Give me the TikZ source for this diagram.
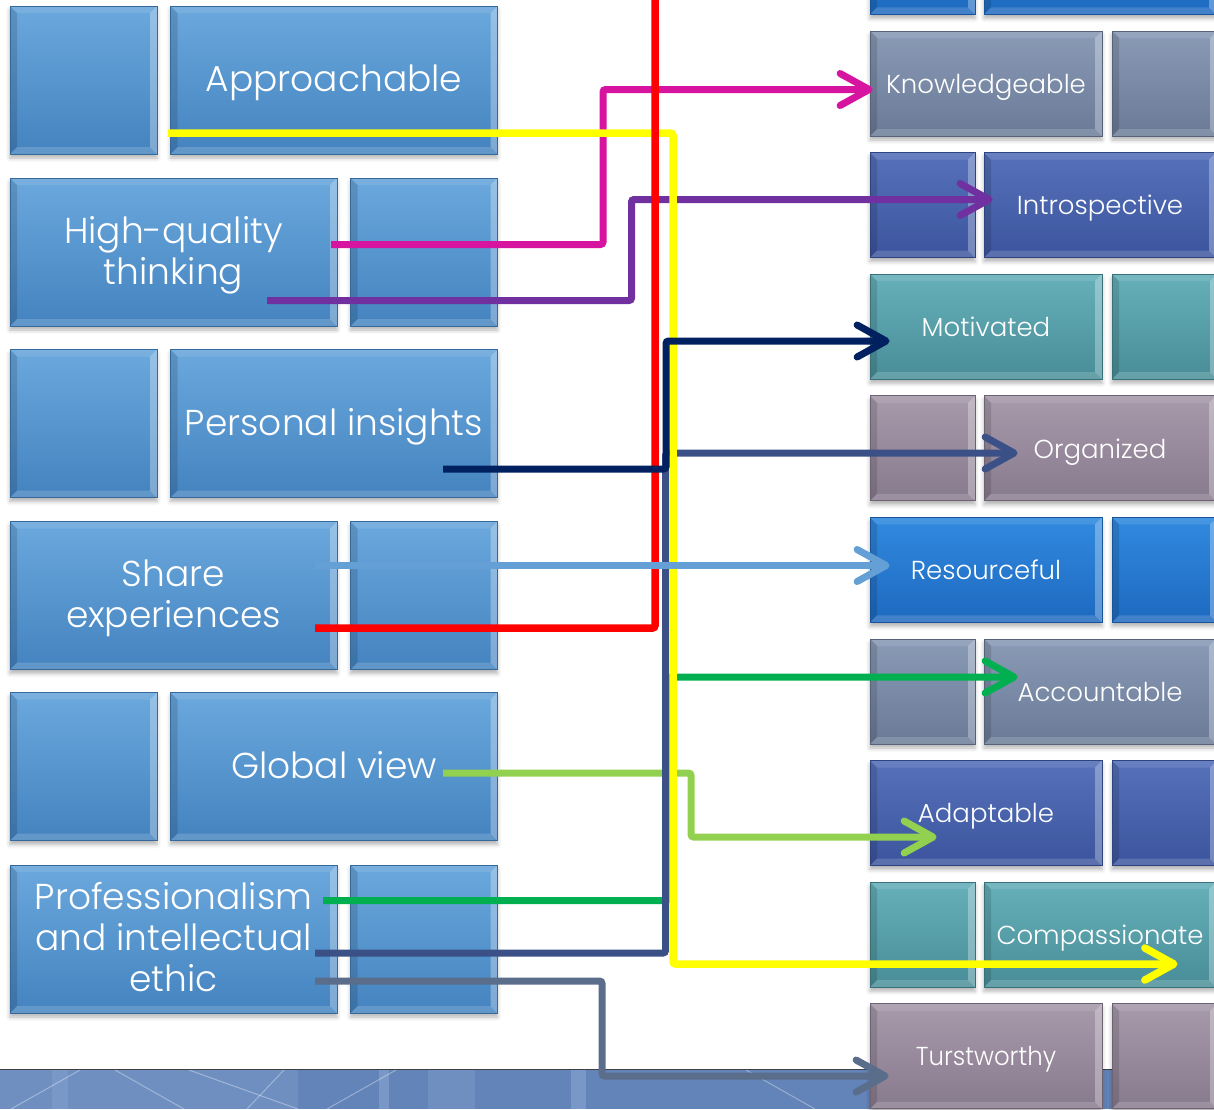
\documentclass[tikz,border=0pt]{standalone}
\usepackage{fontspec}
\setmainfont{Poppins}[UprightFont=* Light]
\usetikzlibrary{arrows.meta,shadows.blur,calc}

% tile colours (top / bottom of the vertical gradient)
\definecolor{skyT}{HTML}{6AA8DD}
\definecolor{skyB}{HTML}{4483BF}
\definecolor{azT}{HTML}{318ADF}
\definecolor{azB}{HTML}{1D69C0}
\definecolor{slT}{HTML}{8A9BB6}
\definecolor{slB}{HTML}{6A7A97}
\definecolor{roT}{HTML}{5672BA}
\definecolor{roB}{HTML}{3B549D}
\definecolor{teT}{HTML}{66B0BA}
\definecolor{teB}{HTML}{488D97}
\definecolor{mvT}{HTML}{A79AAB}
\definecolor{mvB}{HTML}{887A8D}
% connector colours
\definecolor{cMag}{HTML}{D6149F}
\definecolor{cPur}{HTML}{7030A0}
\definecolor{cNav}{HTML}{002060}
\definecolor{cSla}{HTML}{3A5086}
\definecolor{cGrn}{HTML}{00B050}
\definecolor{cLbl}{HTML}{64A0D6}
\definecolor{cLgr}{HTML}{92D050}
\definecolor{cGry}{HTML}{5A6D8A}
\definecolor{cYel}{HTML}{FFFF00}
\definecolor{cRed}{HTML}{FF0000}
% footer band
\definecolor{bandL}{HTML}{6F8FC1}
\definecolor{bandD}{HTML}{6384B9}
\definecolor{bandS}{HTML}{7A98C7}

\tikzset{
  bevel/.style={path picture={
    \fill[black,opacity=.13] (path picture bounding box.north west) -- (path picture bounding box.south west)
      -- ([shift={(7pt,7pt)}]path picture bounding box.south west) -- ([shift={(7pt,-7pt)}]path picture bounding box.north west) -- cycle;
    \fill[white,opacity=.30] (path picture bounding box.north east) -- (path picture bounding box.south east)
      -- ([shift={(-7pt,7pt)}]path picture bounding box.south east) -- ([shift={(-7pt,-7pt)}]path picture bounding box.north east) -- cycle;
    \fill[white,opacity=.16] (path picture bounding box.south west) -- (path picture bounding box.south east)
      -- ([shift={(-7pt,7pt)}]path picture bounding box.south east) -- ([shift={(7pt,7pt)}]path picture bounding box.south west) -- cycle;
    \fill[white,opacity=.10] (path picture bounding box.north west) -- (path picture bounding box.north east)
      -- ([shift={(-7pt,-7pt)}]path picture bounding box.north east) -- ([shift={(7pt,-7pt)}]path picture bounding box.north west) -- cycle;
  }},
  tile/.style 2 args={rectangle, inner sep=0pt, draw=#2!80!black, line width=.8pt,
    top color=#1, bottom color=#2, text=white, align=center, text depth=0pt, bevel,
    blur shadow={shadow xshift=0pt, shadow yshift=-4pt, shadow blur radius=4pt, shadow opacity=30}},
  bigL/.style={minimum width=327pt, minimum height=148pt, text depth=4pt, font=\fontsize{36}{41}\selectfont},
  smallL/.style={minimum width=147pt, minimum height=148pt},
  bigR/.style={minimum width=232pt, minimum height=105pt, font=\fontsize{26}{30}\selectfont},
  smallR/.style={minimum width=105pt, minimum height=105pt},
  conn/.style={line width=7pt, rounded corners=2.5pt},
  tip/.style={-{Straight Barb[length=29pt,width=32pt,round]}},
}

\begin{document}
\begin{tikzpicture}[x=1pt,y=-1pt]
\useasboundingbox (0,0) rectangle (1214,1109);

% footer band
\fill[bandD] (0,1070) rectangle (1214,1109);
\fill[bandL] (0,1070) rectangle (298,1109);
\fill[bandS] (52,1070) rectangle (68,1109);
\fill[bandS] (379,1070) rectangle (389,1109);
\fill[bandL] (428,1070) rectangle (475,1109);
\fill[bandS] (571,1070) rectangle (586,1109);
\begin{scope}[white,opacity=.35,line width=1pt]
  \draw (80,1070) -- (11,1109);
  \draw (115,1070) -- (184,1109);
  \draw (189,1070) -- (298,1109);
  \draw (284,1070) -- (247,1109);
  \draw (396,1070) -- (327,1109);
  \draw (746,1070) -- (815,1109);
\end{scope}
\draw[black!75,line width=1.5pt] (0,1069.5) -- (1214,1069.5);

% left column
\node[tile={skyT}{skyB},smallL] (a1s) at (83.5,80) {};
\node[tile={skyT}{skyB},bigL]   (ap)  at (334,80) {Approachable};
\node[tile={skyT}{skyB},bigL]   (hq)  at (173.5,252) {High-quality\\thinking};
\node[tile={skyT}{skyB},smallL] (hqs) at (424,252) {};
\node[tile={skyT}{skyB},smallL] (pis) at (83.5,423.5) {};
\node[tile={skyT}{skyB},bigL]   (pi)  at (334,423.5) {Personal insights};
\node[tile={skyT}{skyB},bigL]   (se)  at (173.5,595.5) {Share\\experiences};
\node[tile={skyT}{skyB},smallL] (ses) at (424,595.5) {};
\node[tile={skyT}{skyB},smallL] (gvs) at (83.5,766.5) {};
\node[tile={skyT}{skyB},bigL]   (gv)  at (334,766.5) {Global view};
\node[tile={skyT}{skyB},bigL]   (pe)  at (173.5,939) {Professionalism\\and intellectual\\ethic};
\node[tile={skyT}{skyB},smallL] (pes) at (424,939) {};

% right column
\node[tile={azT}{azB},smallR] (r0s) at (922.5,-38.1) {};
\node[tile={azT}{azB},bigR]   (r0b) at (1100,-38.1) {};
\node[tile={slT}{slB},bigR]   (kn)  at (986,83.5) {Knowledgeable};
\node[tile={slT}{slB},smallR] (kns) at (1164.5,83.5) {};
\node[tile={roT}{roB},smallR] (ins) at (922.5,205.1) {};
\node[tile={roT}{roB},bigR]   (intro) at (1100,205.1) {Introspective};
\node[tile={teT}{teB},bigR]   (mo)  at (986,326.7) {Motivated};
\node[tile={teT}{teB},smallR] (mos) at (1164.5,326.7) {};
\node[tile={mvT}{mvB},smallR] (ogs) at (922.5,448.3) {};
\node[tile={mvT}{mvB},bigR]   (og)  at (1100,448.3) {Organized};
\node[tile={azT}{azB},bigR]   (re)  at (986,569.9) {Resourceful};
\node[tile={azT}{azB},smallR] (res) at (1164.5,569.9) {};
\node[tile={slT}{slB},smallR] (acs) at (922.5,691.5) {};
\node[tile={slT}{slB},bigR]   (ac)  at (1100,691.5) {Accountable};
\node[tile={roT}{roB},bigR]   (ad)  at (986,813.1) {Adaptable};
\node[tile={roT}{roB},smallR] (ads) at (1164.5,813.1) {};
\node[tile={teT}{teB},smallR] (cps) at (922.5,934.7) {};
\node[tile={teT}{teB},bigR]   (cp)  at (1100,934.7) {Compassionate};
\node[tile={mvT}{mvB},bigR]   (tw)  at (986,1056.3) {\scalebox{0.94}[1]{Turstworthy}};
\node[tile={mvT}{mvB},smallR] (tws) at (1164.5,1056.3) {};

% connector ends
\coordinate (sYel) at (168,133);
\coordinate (sMag) at (331,244.5);
\coordinate (sPur) at (267,300.5);
\coordinate (sNav) at (443,469);
\coordinate (sLbl) at (315,565.5);
\coordinate (sRed) at (315,628);
\coordinate (sLgr) at (443,773);
\coordinate (sGrn) at (323,900.5);
\coordinate (sSla) at (315,953);
\coordinate (sGry) at (315,981);
\coordinate (rTop) at (655,-6);

\coordinate (tMag) at ($(kn.west)+(3,6)$);
\coordinate (tPur) at ($(intro.west)+(9,-5.6)$);
\coordinate (tNav) at ($(mo.west)+(20,14.3)$);
\coordinate (tSla) at ($(og.west)+(34,4.7)$);
\coordinate (tLbl) at ($(re.west)+(20,-4.4)$);
\coordinate (tGrn) at ($(ac.west)+(34,-14.5)$);
\coordinate (tLgr) at ($(ad.west)+(67,23.9)$);
\coordinate (tYel) at ($(cp.west)+(194,29.3)$);
\coordinate (tGry) at ($(tw.west)+(19,19.7)$);

% vertical runs of the elbow connectors
\coordinate (xMag) at (603,0);
\coordinate (xPur) at (631.5,0);
\coordinate (xNav) at (666,0);
\coordinate (xSla) at (665.5,0);
\coordinate (xGrn) at (668.5,0);
\coordinate (xLgr) at (691,0);
\coordinate (xYel) at (673,0);
\coordinate (xGry) at (602,0);

% connectors, back to front
\draw[conn,cLgr,tip] (sLgr) -| (xLgr |- tLgr) -- (tLgr);
\draw[conn,cGry,tip] (sGry) -| (xGry |- tGry) -- (tGry);
\draw[conn,cMag,tip] (sMag) -| (xMag |- tMag) -- (tMag);
\draw[conn,cPur,tip] (sPur) -| (xPur |- tPur) -- (tPur);
\draw[conn,cGrn,tip] (sGrn) -| (xGrn |- tGrn) -- (tGrn);
\draw[conn,cSla,tip] (sSla) -| (xSla |- tSla) -- (tSla);
\draw[conn,cYel,tip,line width=7.5pt] (sYel) -| (xYel |- tYel) -- (tYel);
\draw[conn,cRed,line width=7.5pt] (rTop) |- (sRed);
\draw[conn,cNav,tip] (sNav) -| (xNav |- tNav) -- (tNav);
\draw[conn,cLbl,tip] (sLbl) -- (tLbl);
\end{tikzpicture}
\end{document}
